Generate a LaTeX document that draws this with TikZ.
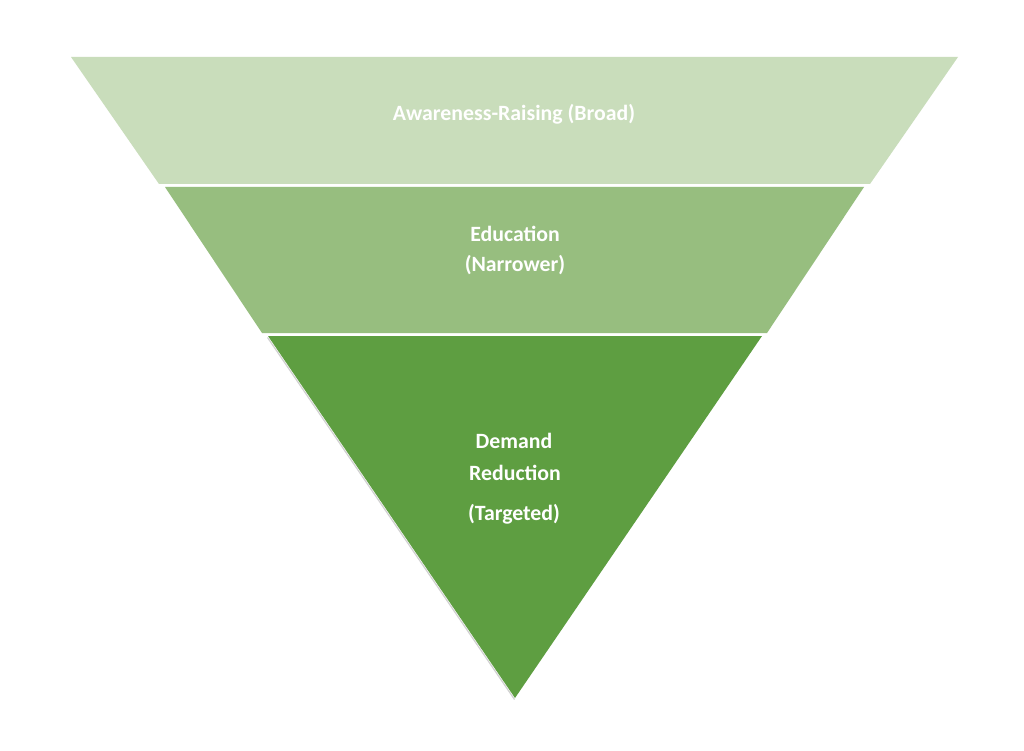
\documentclass[tikz,border=0pt]{standalone}
\usepackage{fontspec}
\setmainfont{Carlito}
\definecolor{bandA}{HTML}{C9DDBB}
\definecolor{bandB}{HTML}{97BE7F}
\definecolor{bandC}{HTML}{5E9E41}
\begin{document}
\begin{tikzpicture}[x=1pt,y=-1pt,
  lbl/.style={text=white,font=\fontsize{21.8}{26}\selectfont\bfseries,inner sep=0pt,anchor=center}]
\useasboundingbox[fill=white] (0,0) rectangle (1024,751);
% shadow on lower-left edge of bottom band
\draw[black!18,line width=1.2pt] (267.5,337.5) -- (514.5,699.5);
% bands
\fill[bandA] (71,57) -- (958,57) -- (870,184) -- (159,184) -- cycle;
\fill[bandB] (165,187) -- (864,187) -- (767,333) -- (262,333) -- cycle;
\fill[bandC] (268,336) -- (762,336) -- (515,698) -- cycle;
% labels
\node[lbl] (aw) at (514,114) {Awareness-Raising (Broad)};
\node[lbl] (ed1) at (515,234) {Education};
\node[lbl] (ed2) at (515,265) {(Narrower)};
\node[lbl] (dr1) at (514,441) {Demand};
\node[lbl] (dr2) at (515,473) {Reduction};
\node[lbl] (dr3) at (514,514) {(Targeted)};
\end{tikzpicture}
\end{document}
